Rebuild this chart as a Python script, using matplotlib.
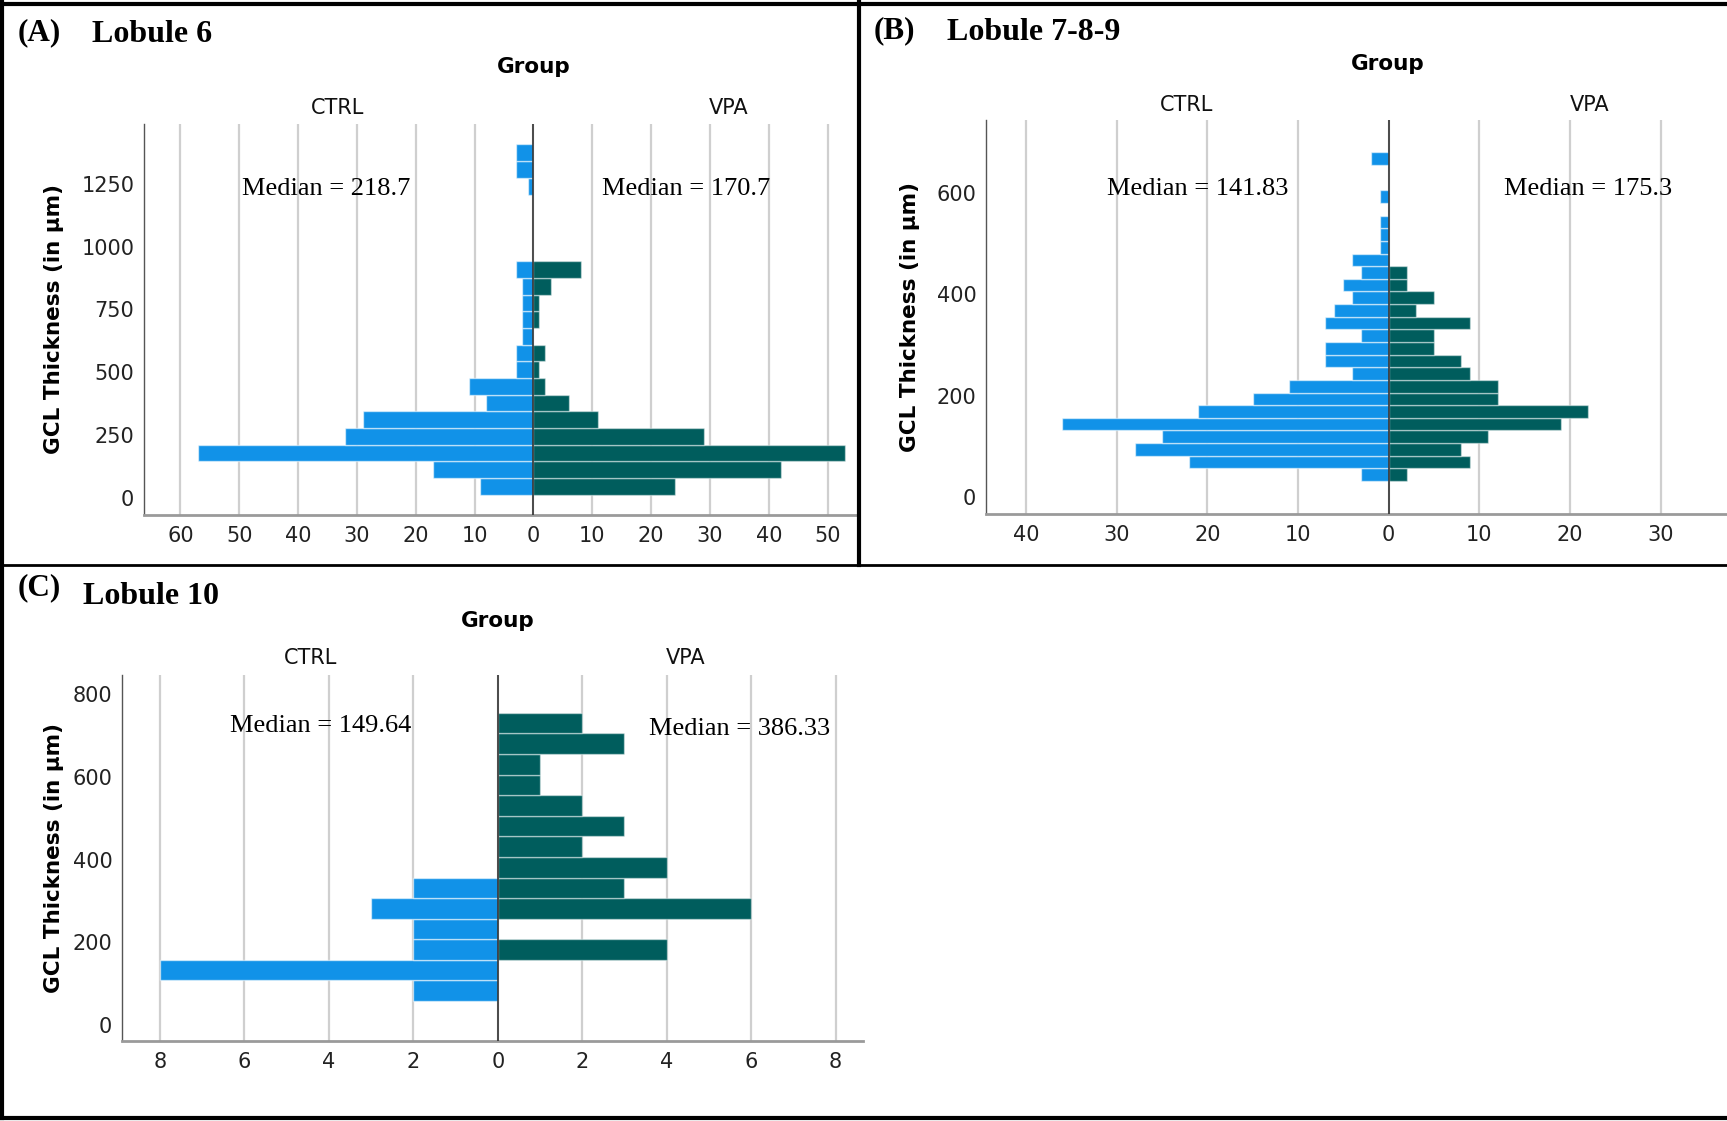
from matplotlib import pyplot as plt
from matplotlib.lines import Line2D
from matplotlib.ticker import FuncFormatter
import numpy as np

W, H = 1727, 1121

# bins (start, width) and counts per bin, bottom to top
binsA = (12.0, 66.4)
ctrlA = [9, 17, 57, 32, 29, 8, 11, 3, 3, 2, 2, 2, 2, 3, 0, 0, 0, 0, 1, 3, 3]
vpaA = [24, 42, 53, 29, 11, 6, 2, 1, 2, 0, 1, 1, 3, 8, 0, 0, 0, 0, 0, 0, 0]

binsB = (31.6, 24.9)
ctrlB = [3, 22, 28, 25, 36, 21, 15, 11, 4, 7, 7, 3, 7, 6, 4, 5, 3, 4, 1, 1, 1, 0, 1, 0, 0, 2]
vpaB = [2, 9, 8, 11, 19, 22, 12, 12, 9, 8, 5, 5, 9, 3, 5, 2, 2, 0, 0, 0, 0, 0, 0, 0, 0, 0]

binsC = (58.0, 49.8)
ctrlC = [2, 8, 2, 2, 3, 2, 0, 0, 0, 0, 0, 0, 0, 0]
vpaC = [0, 0, 4, 0, 6, 3, 4, 2, 3, 2, 1, 1, 3, 2]

medians = {'A': ('218.7', '170.7'), 'B': ('141.83', '175.3'), 'C': ('149.64', '386.33')}

blue = '#1192e8'
teal = '#005d5d'

fig = plt.figure(figsize=(W / 100, H / 100), dpi=100)


def px(x, y):
    return x / W, 1 - y / H


def ftext(x, y, s, **kw):
    fx, fy = px(x, y)
    fig.text(fx, fy, s, **kw)


# ----------------------------------------------------------------------------------------------------
def pyramid(rect, bins, ctrl, vpa, xlim, ylim, xticks, yticks, ylabel_x):

    ax = fig.add_axes(rect)
    start, width = bins
    bottoms = start + width * np.arange(len(ctrl))
    ax.barh(bottoms, -np.array(ctrl), height=width, align='edge', color=blue,
            edgecolor=(1, 1, 1, 0.55), linewidth=1.0, zorder=2)
    ax.barh(bottoms, vpa, height=width, align='edge', color=teal,
            edgecolor=(1, 1, 1, 0.45), linewidth=1.0, zorder=2)
    ax.axvline(0, color='#333333', lw=1.2, zorder=3)

    ax.set_xlim(*xlim)
    ax.set_ylim(*ylim)
    ax.set_xticks(xticks)
    ax.set_yticks(yticks)
    ax.xaxis.set_major_formatter(FuncFormatter(lambda v, p: '{0:g}'.format(abs(v))))
    ax.grid(axis='x', color='#cfcfcf', lw=1.6, zorder=0)
    ax.set_axisbelow(True)
    ax.tick_params(length=0, labelsize=15, colors='#222222')
    ax.tick_params(axis='x', pad=8)
    ax.tick_params(axis='y', pad=7)

    for s in ['top', 'right']:
        ax.spines[s].set_visible(False)
    ax.spines['left'].set_color('#555555')
    ax.spines['left'].set_linewidth(1.0)
    ax.spines['bottom'].set_color('#9a9a9a')
    ax.spines['bottom'].set_linewidth(2.0)

    ax.set_ylabel('GCL Thickness (in µm)', fontsize=15.5, fontweight='bold')
    ax.yaxis.set_label_coords(ylabel_x, 0.5)
    return ax


def headers(tag, title, tagx, titlex, tagy, titley, groupx, groupy, ctrlx, vpax, catY, medL, medR, medY):

    ftext(tagx, tagy, tag, family='Liberation Serif', fontweight='bold', fontsize=22.5, ha='center', va='center')
    ftext(titlex, titley, title, family='Liberation Serif', fontweight='bold', fontsize=23, ha='left', va='center')
    ftext(groupx, groupy, 'Group', fontsize=15.5, fontweight='bold', ha='center', va='center')
    ftext(ctrlx, catY, 'CTRL', fontsize=15, ha='center', va='center', color='#111111')
    ftext(vpax, catY, 'VPA', fontsize=15, ha='center', va='center', color='#111111')
    ftext(medL[0], medY[0], 'Median = ' + medL[1], family='Liberation Serif', fontsize=19, ha='center', va='center')
    ftext(medR[0], medY[1], 'Median = ' + medR[1], family='Liberation Serif', fontsize=19, ha='center', va='center')


# panel A
pyramid([144 / W, 1 - 515 / H, 713 / W, 391 / H], binsA, ctrlA, vpaA,
        (-66.2, 55.0), (-69, 1488), np.arange(-60, 51, 10), np.arange(0, 1251, 250), -0.1124)
headers('(A)', 'Lobule 6', 39, 92, 33, 35, 534, 67, 338, 729, 108,
        (326, medians['A'][0]), (686, medians['A'][1]), (189, 189))

# panel B
pyramid([986 / W, 1 - 514 / H, 741 / W, 394 / H], binsB, ctrlB, vpaB,
        (-44.4, 37.3), (-33.5, 743), np.arange(-40, 31, 10), np.arange(0, 601, 200), -0.0891)
headers('(B)', 'Lobule 7-8-9', 894, 947, 31, 32, 1388, 64, 1187, 1590, 105,
        (1198, medians['B'][0]), (1588, medians['B'][1]), (189, 189))

# panel C
pyramid([122 / W, 1 - 1041 / H, 741 / W, 366.5 / H], binsC, ctrlC, vpaC,
        (-8.9, 8.65), (-38.7, 848), np.arange(-8, 9, 2), np.arange(0, 801, 200), -0.0781)
headers('(C)', 'Lobule 10', 39, 83, 588, 597, 498, 621, 311, 686, 658,
        (321, medians['C'][0]), (740, medians['C'][1]), (726, 729))

# panel frames
frames = [((0, W), (4, 4), 3.0), ((2, 2), (0, 1118), 3.0), ((859, 859), (0, 565), 3.0),
          ((0, W), (565, 565), 2.0), ((0, W), (1118, 1118), 3.0)]
for xs, ys, lw in frames:
    fig.add_artist(Line2D([x / W for x in xs], [1 - y / H for y in ys], color='black', lw=lw))

plt.savefig('out.png', dpi=100)
